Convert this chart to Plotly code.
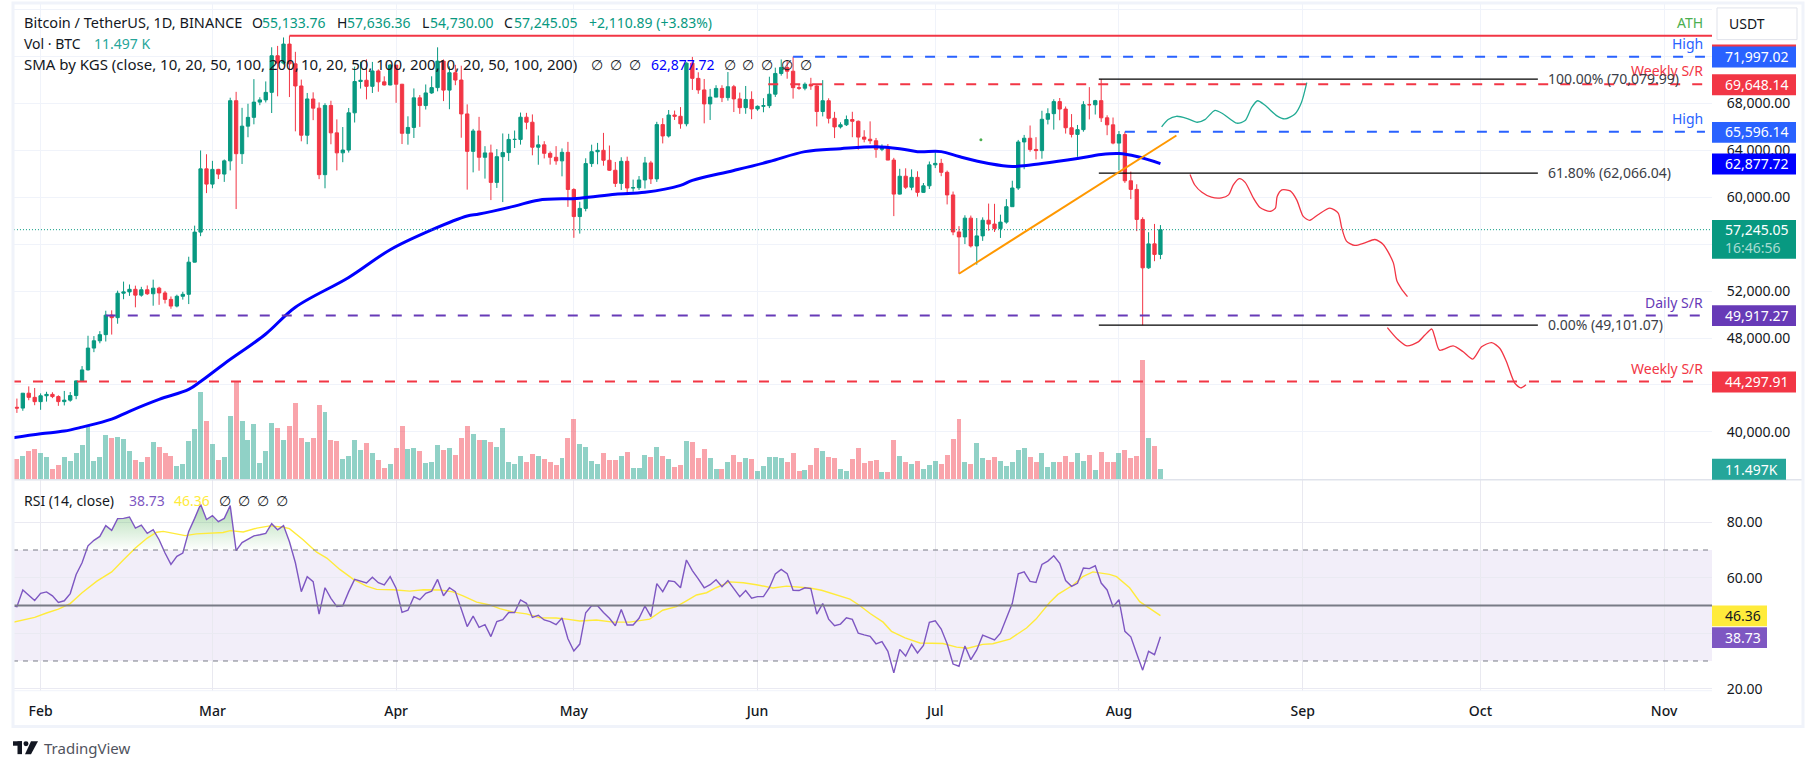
import numpy as np
import pandas as pd
import plotly.graph_objects as go

W, H = 1815, 777
FONT = "Noto Sans"
GREEN, RED, BLUE, PURPLE = "#089981", "#F23645", "#2962FF", "#673AB7"
RSI_COL, RSI_MA_COL = "#7E57C2", "#FFEB3B"
GRID = "#F0F3FA"

# daily candles, Jan 27 to Aug 8
opens = [41800, 42100, 42030, 43300, 42946,
    42580, 43082, 43200, 43011, 42582, 42708, 43098, 44349, 45288, 47147, 47771, 48293, 49958, 49742, 51826, 51939, 52160, 51663, 52122, 51780, 52258, 51849, 51300, 50731, 51565, 51733, 54476, 57037, 62432,
    61130, 62387, 61987, 63113, 68245, 63724, 66074, 66823, 68124, 68313, 68955, 72078, 71452, 73072, 71388, 69499, 65300, 68390, 67609, 61937, 67840, 65501, 63796, 64037, 67210, 69880, 69988, 69469, 70780, 69850, 69582,
    71280, 69649, 65463, 65963, 68487, 67830, 68907, 69360, 71620, 69146, 70631, 70006, 67116, 63924, 65661, 63419, 63793, 61277, 63470, 63818, 64941, 64941, 66837, 66408, 64276, 64481, 63755, 63419, 63113, 63841,
    60672, 58364, 59060, 62882, 63892, 64012, 63165, 62312, 61193, 63074, 60799, 60825, 61484, 62940, 61577, 66206, 65235, 67024, 66915, 66274, 71447, 70148, 69166, 67969, 68549, 69290, 68507, 69436, 68398, 67652, 68352,
    67540, 67766, 67820, 68799, 70567, 71082, 70757, 69355, 69310, 69648, 69500, 67321, 68243, 66747, 66007, 66191, 66639, 66490, 65140, 64960, 64828, 64096, 64252, 63180, 60277, 61804, 60864, 61706, 60427, 60986,
    62773, 62900, 62135, 60208, 57050, 56628, 58230, 55857, 56714, 58050, 57725, 57339, 57889, 59204, 60797, 64725, 65043, 64087, 63987, 66660, 67139, 68165, 67532, 65936, 65372, 65777, 67907, 67896, 68249, 66784, 66188,
    64628, 65354, 61415, 60680, 58116, 53991, 56035, 55133.76]
highs = [42200, 42842, 43300, 43882, 43745,
    43285, 43422, 43380, 43119, 43494, 43399, 44396, 45614, 48200, 48170, 48592, 50334, 50368, 52043, 52816, 52572, 52473, 52370, 52488, 52985, 52370, 52020, 51548, 51700, 51950, 54938, 57588, 64000, 63676,
    63114, 62433, 63231, 68499, 69000, 67637, 67984, 70083, 68541, 69887, 72800, 72916, 73637, 73777, 72413, 70043, 68904, 68957, 68100, 68029, 68240, 66650, 65999, 67624, 71150, 71561, 71769, 71552, 70916, 70321, 71366,
    71288, 69674, 66914, 69291, 68725, 69629, 70326, 72797, 71758, 71172, 71305, 71227, 67931, 65840, 66867, 64365, 64499, 64117, 65450, 65419, 65700, 67232, 67208, 67075, 65275, 64789, 63923, 64370, 64174, 64734,
    60780, 59625, 63333, 64493, 64646, 65500, 64422, 63021, 63421, 63470, 61515, 61818, 63450, 63118, 66444, 66752, 67451, 67400, 67700, 71515, 71980, 70666, 70096, 69250, 69562, 69562, 70687, 69591, 68935, 69500, 69044,
    67836, 68460, 70288, 71063, 71758, 71625, 71997.02, 69582, 69800, 70195, 69562, 69999, 68449, 67294, 66402, 66981, 67298, 66556, 65727, 66482, 65066, 64520, 64546, 63369, 62435, 62480, 62389, 62225, 61224, 63058,
    63861, 63288, 62285, 60498, 57546, 58475, 58449, 58236, 58296, 59470, 59450, 58526, 59850, 61420, 64900, 65326, 66128, 65133, 67386, 67598, 68366, 68474, 67750, 67102, 66175, 68200, 69399, 68318, 70079, 67000, 66810,
    65659, 65596, 62198, 61117, 58305, 57029, 57736, 57636.36]
lows = [41400, 41620, 41800, 42700, 42276,
    41884, 42584, 42880, 42222, 42258, 42574, 42788, 44331, 45242, 46800, 47557, 47710, 48300, 49225, 51314, 51600, 50625, 51530, 51680, 50760, 50838, 50950, 50500, 50620, 51280, 50901, 54450, 56690, 60364,
    60777, 61561, 61320, 62300, 59005, 62848, 65126, 66230, 67861, 68094, 67194, 68620, 71333, 68555, 65630, 64780, 64533, 66586, 61555, 60775, 64529, 62300, 63000, 63821, 66385, 69280, 68359, 68903, 69009, 69540, 69562,
    68062, 64550, 64493, 65064, 66011, 67491, 68824, 69043, 68210, 67518, 69567, 65086, 60660, 62134, 62274, 61600, 59768, 60803, 59600, 63100, 64207, 64500, 65800, 63589, 62783, 63322, 62793, 62781, 61795, 59191,
    56552, 56911, 58811, 62599, 62822, 62700, 62261, 60888, 60630, 60187, 60487, 60630, 60749, 61142, 61319, 64602, 65106, 66600, 65857, 66060, 69162, 68832, 66312, 66600, 68807, 68128, 68250, 67277, 67124, 67128, 66670,
    67386, 67257, 67612, 68567, 70383, 70119, 68420, 69168, 69130, 69172, 66051, 66905, 66304, 65056, 65871, 66086, 65130, 64066, 64693, 64559, 63379, 63941, 63178, 58402, 60239, 60712, 60606, 60063, 60383, 60712,
    62497, 61806, 59400, 56771, 53485, 56018, 55724, 54260, 56290, 57157, 57052, 56542, 57756, 59204, 60633, 62400, 63900, 63238, 63300, 66222, 65777, 66573, 65441, 65111, 63456, 65600, 66650, 67066, 66428, 65302, 64526,
    62302, 61236, 59850, 57122, 49101.07, 53905, 54558, 54730]
closes = [42100, 42030, 43300, 42946, 42580,
    43082, 43200, 43011, 42582, 42708, 43098, 44349, 45288, 47147, 47771, 48293, 49958, 49742, 51826, 51939, 52160, 51663, 52122, 51780, 52258, 51849, 51300, 50731, 51565, 51733, 54477, 57037, 62432, 61130,
    62387, 61987, 63113, 68245, 63724, 66074, 66823, 68124, 68313, 68955, 72078, 71452, 73072, 71388, 69499, 65300, 68393, 67609, 61937, 67840, 65501, 63796, 64037, 67211, 69880, 69988, 69469, 70780, 69850, 69582, 71280,
    69649, 65463, 65963, 68487, 67830, 68907, 69360, 71620, 69146, 70631, 70006, 67116, 63924, 65661, 63419, 63793, 61277, 63470, 63818, 64941, 64945, 66837, 66408, 64276, 64481, 63755, 63419, 63113, 63841, 60672,
    58364, 59060, 62882, 63892, 64012, 63165, 62312, 61193, 63074, 60799, 60825, 61483, 62940, 61577, 66206, 65235, 67024, 66915, 66274, 71446, 70148, 69166, 67969, 68549, 69290, 68507, 69436, 68398, 67652, 68352, 67540,
    67766, 67819, 68798, 70567, 71082, 70757, 69355, 69310, 69648, 69500, 67321, 68243, 66747, 66007, 66191, 66639, 66490, 65140, 64960, 64828, 64096, 64252, 63180, 60277, 61804, 60864, 61706, 60427, 60986, 62772,
    62899, 62135, 60208, 57050, 56628, 58230, 55857, 56714, 58050, 57725, 57339, 57889, 59204, 60797, 64725, 65043, 64087, 63987, 66660, 67139, 68165, 67532, 65936, 65372, 65777, 67907, 67896, 68249, 66784, 66188, 64628,
    65354, 61415, 60680, 58116, 53991, 56034, 55134, 57245.05]

# volume in thousand BTC
volumes = [15.2, 23.7, 27.1, 32.6, 34.9,
    30.4, 26, 11.5, 16, 26, 21.5, 30.4, 39.3, 60.5, 21.5, 26, 50.5, 47.1, 48.2, 46, 32.6, 22.6, 19.3, 26, 42.7, 37.1, 30.4, 27.1, 14.8, 17.1, 43.8, 57.1, 98, 66,
    40.4, 22.6, 26, 71.6, 110.2, 66, 44.9, 62.7, 18.2, 32.6, 63.8, 58.2, 44.9, 60.5, 85.7, 47.1, 42.7, 47.1, 83.5, 75.7, 44.9, 43.8, 23.7, 27.1, 44.9, 33.8, 41.6, 30.4, 22.6, 12.6, 17.1,
    36, 60.5, 34.9, 36, 32.6, 18.2, 19.3, 39.3, 33.8, 36, 28.2, 47.1, 60.5, 51.6, 44.9, 44.9, 42.7, 37.1, 58.2, 20.4, 17.1, 27.1, 20.4, 29.3, 27.1, 23.7, 19.3, 16, 24.9, 47.1,
    68.3, 40.4, 37.1, 21.5, 17.1, 30.4, 22.6, 22.6, 27.1, 31.5, 12.6, 12.6, 28.2, 26, 37.1, 27.1, 23.7, 13.7, 16, 43.8, 42.7, 24.9, 34.9, 24.9, 11.5, 11.5, 20.4, 28.2, 20.4, 24.9, 23.7,
    9.3, 14.8, 26, 26, 24.9, 19.3, 30.4, 9.3, 10.4, 16, 36, 32.6, 26, 24.9, 11.5, 9.3, 23.7, 36, 18.2, 21.5, 22.6, 8.2, 8.2, 44.9, 27.1, 20.4, 17.1, 21.5, 11.5, 16,
    21.5, 17.1, 28.2, 46, 68.3, 19.3, 17.1, 41.6, 24.9, 22.6, 26, 21.5, 14.8, 19.3, 33.8, 36, 26, 20.4, 30.4, 13.7, 19.3, 19.3, 27.1, 20.4, 30.4, 21.5, 28.2, 10.4, 31.5, 20.4, 20.4,
    30.4, 33.8, 24.9, 27.1, 134.7, 47.1, 38.2, 11.497]

rsi = [50, 49.6, 55.6, 53.7, 51.8,
    54.4, 54.9, 53.5, 51.1, 51.7, 54.3, 61.2, 65.4, 71.5, 73.5, 74.9, 78.8, 77.1, 81.3, 81.4, 81.9, 77.9, 79, 76, 77.3, 73.7, 68.9, 64.8, 67.7, 68.9, 76.7, 81.4, 86.5, 81,
    82.4, 80.2, 81.4, 86, 69.8, 72.7, 73.9, 75.1, 75.5, 76, 79.5, 77.3, 78.8, 73, 65.4, 55, 60.4, 58.6, 46.9, 56.4, 52.6, 49.6, 49.9, 55, 59.4, 58.8, 58.1, 60.2, 58.2, 57.4, 60.4,
    56.2, 47.5, 48.3, 53.2, 52.1, 54.4, 55.2, 59.4, 53.5, 56.4, 55, 48.7, 42.4, 46.2, 42.1, 43.1, 38.8, 44.2, 44.9, 47.5, 47.5, 52, 50.8, 45.7, 46.5, 44.8, 44.2, 43.1, 45.5, 38,
    33.6, 36.1, 47.4, 49.9, 49.9, 47.5, 45.4, 42.7, 48.6, 43, 43, 45.4, 49.8, 46, 57.9, 55, 58.9, 58.6, 56.4, 66.4, 62.6, 59.6, 56.4, 57.5, 59.3, 56.8, 59, 56.1, 53.2, 55.4, 52.6,
    53.2, 53.2, 56.4, 61.4, 63, 61.5, 55.5, 55.4, 56.4, 56.1, 46.9, 50.7, 45.1, 42.7, 43.3, 45.6, 45, 40, 39.4, 38.9, 36.2, 37, 33.5, 25.7, 34.2, 31.8, 36.1, 32.9, 35.6, 43.9,
    44.5, 41.5, 36.2, 28.9, 28.1, 35.4, 30.5, 34, 39.3, 38.5, 37.6, 40, 45.1, 50.8, 61.4, 62.1, 58.7, 58.3, 64.8, 66, 67.9, 65.2, 59, 56.9, 58, 63.5, 63.3, 64.3, 58.1, 55.6, 49.6,
    52.1, 40.7, 38.7, 32.6, 26.7, 33.5, 32.3, 38.73]

# the slower lines are read at a few places only, days counted from Jan 28
rsi_ma_day = [-1, 1, 3, 5, 7, 9, 11, 13.5, 16, 18, 20, 22, 23.6, 24.7, 26.4, 28.4, 30.3, 32.6, 34.8, 36, 38.2, 40.5, 42.7, 45, 46, 48.3, 50.6, 52.3, 54.5, 56.8, 59, 60.7, 63.5, 66.3,
    68.6, 71.4, 73.6, 75.3, 77.6, 79.8, 81.5, 83.8, 86, 88.3, 91, 92.8, 95, 97.8, 100.6, 103.4, 106.8, 109, 111.3, 113, 114.7, 116.4, 118, 120.3, 122.6, 124.8, 127.6, 129.9, 133.8,
    135.8, 137.2, 140.6, 142.3, 144, 146.2, 147.6, 149.9, 152.4, 156.3, 158.6, 160.5, 163, 164.7, 167.6, 170.4, 172, 174.3, 175.7, 178.2, 179.9, 181.6, 184.4, 185.6, 187.8, 189.5, 193]
rsi_ma = [43.8, 44.8, 45.7, 47.3, 48.7, 50.7, 54.6, 58.8, 62.1, 66.5, 70.7, 74.3, 76.4, 76.7, 76, 75.2, 75.8, 76.1, 76.3, 77, 76.5, 77.9, 78.7, 78.2, 77.7, 73.7, 69.2, 67.1, 63, 59.4, 57, 55.8, 55.7, 55.2,
    55.7, 55.6, 54.9, 53.5, 51.2, 50.2, 48.9, 47.6, 47, 45.6, 45.5, 45.1, 44.4, 44.8, 44, 44, 45.1, 48.3, 49.6, 51.7, 53.8, 54.6, 56.4, 58.5, 58.2, 57.5, 56.3, 57, 56.3,
    55.5, 54.5, 52.3, 49.9, 47.1, 44, 40.7, 38.3, 36.5, 36.3, 35, 34.6, 36, 36.2, 37.9, 41.9, 45.1, 51.1, 54, 57.3, 60.4, 62.1, 61.2, 60.4, 56.4, 51.4, 46.36]

sma_day = [-1, 4, 8, 11, 16, 19, 24, 29, 31, 35, 42, 47, 56, 63, 70, 76, 78, 84, 88, 95, 101, 106, 112, 114, 121, 127, 133, 139, 145, 149, 152, 156, 159, 164, 168, 173, 179, 183, 186, 189, 193]
sma_200 = [39478, 39841, 40070, 40408, 41084, 41760, 42774, 43619, 44295, 45816, 48352, 50633, 53169, 55535, 57225, 58408, 58577, 59253, 59760, 59929, 60267, 60436, 61028, 61451, 62296, 63056, 63901, 64155, 64324, 64155, 63901, 63901, 63479, 62887, 62634, 62887, 63310, 63648, 63732, 63479, 62877.72]

# hand drawn projections
up_day = [193.2, 194.3, 195.7, 197.4, 199.2, 200.5, 202.2, 203.6, 205.9, 207.3, 208.4, 209.4, 210.6, 212.6, 214, 215.7, 216.8, 217.7]
up_price = [66014, 66634, 66916, 66746, 66408, 66634, 67423, 67113, 66324, 66549, 67676, 68239, 67873, 66972, 66690, 67113, 68099, 69789]
down1_day = [198, 198.8, 200, 201.6, 203.3, 204.5, 205.3, 206.3, 207.3, 208.7, 209.8, 211.5, 212.4, 212.7, 213.5, 214.9, 216, 217.1, 218.2, 219.6, 221.6, 223, 223.6, 224.4, 225.8, 227.5, 229.2, 230.6, 232.3, 232.9, 233.7, 234.7]
down1_price = [61957, 61056, 60436, 60014, 59958, 60211, 61056, 61591, 61282, 59929, 59141, 58803, 59084, 60070, 60634, 60549, 59788, 58380, 58042, 58521, 59084, 58662, 57394, 56267, 55901, 56126, 56408, 55985, 54436, 52887, 52183, 51535]
down2_day = [231.3, 232.9, 234.6, 236.5, 237.6, 238.8, 239.3, 240.1, 242.4, 244.1, 245.7, 247.2, 248.9, 250.3, 251.4, 252.8, 253.8, 254.7]
down2_price = [48887, 47957, 47337, 47676, 48239, 48774, 48098, 46971, 47337, 46830, 46210, 47253, 47620, 47112, 45985, 44153, 43759, 44012]

month_ticks = ["2024-02-01", "2024-03-01", "2024-04-01", "2024-05-01", "2024-06-01", "2024-07-01", "2024-08-01", "2024-09-01", "2024-10-01", "2024-11-01"]
month_labels = ["Feb", "Mar", "Apr", "May", "Jun", "Jul", "Aug", "Sep", "Oct", "Nov"]
price_ticks = [40000, 44000, 48000, 52000, 56000, 60000, 64000, 68000, 72000, 76000]
price_labels = ["40,000.00", "", "48,000.00", "52,000.00", "", "60,000.00", "64,000.00", "68,000.00", "", ""]
rsi_ticks = [20, 40, 60, 80]
rsi_labels = ["20.00", "", "60.00", "80.00"]

assert len(opens) == len(highs) == len(lows) == len(closes) == len(volumes) == len(rsi) == 195
assert len(rsi_ma_day) == len(rsi_ma) and len(sma_day) == len(sma_200)

dates = pd.date_range("2024-01-27", periods=len(closes))
day0 = pd.Timestamp("2024-01-28")


def day(i):
    return day0 + pd.to_timedelta(i, unit="D")


def days(lst):
    return [day(i) for i in lst]


def px(x):
    return x / W


def py(y):
    return 1 - y / H


LEFT, RIGHT, TOP, SPLIT, BOTTOM = 13, 1712, 3, 484, 697
x_range = [day(-0.658), day(286.09)]

bar_colors = ["rgba(8,153,129,0.45)" if c >= o else "rgba(242,54,69,0.45)" for o, c in zip(opens, closes)]

fig = go.Figure()
fig.add_trace(go.Bar(x=dates, y=volumes, marker=dict(color=bar_colors, line=dict(width=0)), width=86400000 * 0.84, xaxis="x", yaxis="y"))
fig.add_trace(go.Candlestick(x=dates, open=opens, high=highs, low=lows, close=closes, xaxis="x", yaxis="y2", whiskerwidth=0,
                             increasing=dict(line=dict(color=GREEN, width=1), fillcolor=GREEN),
                             decreasing=dict(line=dict(color=RED, width=1), fillcolor=RED)))
fig.add_trace(go.Scatter(x=days(sma_day), y=sma_200, mode="lines", line=dict(color="#0000FF", width=3, shape="spline", smoothing=1), xaxis="x", yaxis="y2"))
fig.add_trace(go.Scatter(x=days(up_day), y=up_price, mode="lines", line=dict(color="#22AB94", width=1.3, shape="spline", smoothing=0.7), xaxis="x", yaxis="y2"))
fig.add_trace(go.Scatter(x=days(down1_day), y=down1_price, mode="lines", line=dict(color=RED, width=1.3, shape="spline", smoothing=0.7), xaxis="x", yaxis="y2"))
fig.add_trace(go.Scatter(x=days(down2_day), y=down2_price, mode="lines", line=dict(color=RED, width=1.3, shape="spline", smoothing=0.7), xaxis="x", yaxis="y2"))
fig.add_trace(go.Scatter(x=[day(162.7)], y=[64915], mode="markers", marker=dict(color="#4CAF50", size=3), xaxis="x", yaxis="y2"))

# green gradient above the 70 line
rsi_top = np.maximum(rsi, 70)
fig.add_trace(go.Scatter(x=dates, y=[70] * len(dates), mode="lines", line=dict(width=0), xaxis="x2", yaxis="y3"))
fig.add_trace(go.Scatter(x=dates, y=rsi_top, mode="lines", line=dict(width=0), fill="tonexty", xaxis="x2", yaxis="y3",
                         fillgradient=dict(type="vertical", start=70, stop=88,
                                           colorscale=[[0, "rgba(76,175,80,0)"], [1, "rgba(76,175,80,0.5)"]])))
fig.add_trace(go.Scatter(x=days(rsi_ma_day), y=rsi_ma, mode="lines", line=dict(color=RSI_MA_COL, width=1.4), xaxis="x2", yaxis="y3"))
fig.add_trace(go.Scatter(x=dates, y=rsi, mode="lines", line=dict(color=RSI_COL, width=1.4), xaxis="x2", yaxis="y3"))


def hline(price, d0, d1, color, dash="solid", width=2):
    return dict(type="line", xref="x", yref="y2", x0=day(d0), x1=day(d1), y0=price, y1=price, line=dict(color=color, width=width, dash=dash))


def box(x0, y0, x1, y1, color):
    return dict(type="rect", xref="paper", yref="paper", x0=px(x0), x1=px(x1), y0=py(y0), y1=py(y1), fillcolor=color, line=dict(width=0))


DASH = "10px,12px"
shapes = [
    hline(57245.05, -1, 286.1, GREEN, "1px,2px", 1),
    hline(73777, 46, 286.1, RED),
    hline(71997.02, 131, 284.9, BLUE, DASH),
    hline(69648.14, 126.8, 284.9, RED, DASH),
    hline(65596.14, 187, 284.9, BLUE, DASH),
    hline(49917.27, 15, 284.9, PURPLE, DASH),
    hline(44297.91, -1, 284.9, RED, DASH),
    hline(70079.99, 182.6, 256.7, "#000000", width=1.3),
    hline(62066.04, 182.6, 256.7, "#000000", width=1.3),
    hline(49101.07, 182.6, 256.7, "#000000", width=1.3),
    dict(type="line", xref="x", yref="y2", x0=day(159), x1=day(195.7), y0=53485, y1=65279, line=dict(color="#FF9800", width=2)),
    # rsi band and levels
    dict(type="rect", xref="paper", yref="y3", x0=px(LEFT), x1=px(RIGHT), y0=30, y1=70, fillcolor="rgba(126,87,194,0.1)", line=dict(width=0), layer="below"),
    dict(type="line", xref="paper", yref="y3", x0=px(LEFT), x1=px(RIGHT), y0=70, y1=70, line=dict(color="#787B86", width=1, dash="5px,5px")),
    dict(type="line", xref="paper", yref="y3", x0=px(LEFT), x1=px(RIGHT), y0=30, y1=30, line=dict(color="#787B86", width=1, dash="5px,5px")),
    dict(type="line", xref="paper", yref="y3", x0=px(LEFT), x1=px(RIGHT), y0=50, y1=50, line=dict(color="#787B86", width=2)),
    # frame
    dict(type="line", xref="paper", yref="paper", x0=px(LEFT), x1=px(1803), y0=py(SPLIT), y1=py(SPLIT), line=dict(color="#E0E3EB", width=1.5)),
    dict(type="line", xref="paper", yref="paper", x0=px(LEFT), x1=px(RIGHT), y0=py(BOTTOM), y1=py(BOTTOM), line=dict(color=GRID, width=1)),
    dict(type="rect", xref="paper", yref="paper", x0=px(LEFT), x1=px(1803), y0=py(733), y1=py(3), line=dict(color=GRID, width=3)),
    # USDT button
    dict(type="rect", xref="paper", yref="paper", x0=px(1717), x1=px(1797), y0=py(40), y1=py(8), line=dict(color="#E0E3EB", width=1), fillcolor="#FFFFFF"),
    # TradingView logo
    box(13, 748, 22, 752.5, "#131722"), box(17.5, 748, 22, 761, "#131722"),
    dict(type="circle", xref="paper", yref="paper", x0=px(23.5), x1=px(28.5), y0=py(753), y1=py(748), fillcolor="#131722", line=dict(width=0)),
    dict(type="path", xref="paper", yref="paper", path=f"M {px(31)} {py(748)} L {px(38)} {py(748)} L {px(31)} {py(761)} L {px(25)} {py(761)} Z", fillcolor="#131722", line=dict(width=0)),
    # price scale labels
    box(RIGHT, 45, 1796, 50, RED),
    box(RIGHT, 47, 1796, 68, BLUE),
    box(RIGHT, 75, 1796, 96, RED),
    box(RIGHT, 123, 1796, 144, BLUE),
    box(RIGHT, 155, 1796, 176, "#0000FF"),
    box(RIGHT, 222, 1796, 261, GREEN),
    box(RIGHT, 308, 1796, 329, PURPLE),
    box(RIGHT, 375, 1796, 396, RED),
    box(RIGHT, 463, 1786, 484, "#26A69A"),
    box(RIGHT, 611, 1767, 632, RSI_MA_COL),
    box(RIGHT, 633, 1767, 654, RSI_COL),
]


def label(x, y, text, color="#131722", size=14, anchor="left", **kw):
    return dict(xref="paper", yref="paper", x=px(x), y=py(y), text=text, showarrow=False, xanchor=anchor, yanchor="middle",
                font=dict(family=FONT, size=size, color=color, **kw), borderpad=0)


DARK = "#131722"
annotations = [
    label(23, 22.7, "Bitcoin / TetherUS, 1D, BINANCE", size=14.5),
    label(250.5, 22.7, "O"), label(261, 22.7, "55,133.76", GREEN),
    label(336, 22.7, "H"), label(346, 22.7, "57,636.36", GREEN),
    label(421, 22.7, "L"), label(429, 22.7, "54,730.00", GREEN),
    label(503, 22.7, "C"), label(513, 22.7, "57,245.05", GREEN),
    label(588, 22.7, "+2,110.89 (+3.83%)", GREEN),
    label(23, 44, "Vol · BTC"), label(93, 44, "11.497 K", "#26A69A"),
    label(23, 65, "SMA by KGS (close, 10, 20, 50, 100, 200,", size=15),
    label(300, 65, "10, 20, 50, 100, 200,", size=15),
    label(437, 65, "10, 20, 50, 100, 200)", size=15),
    label(650, 65, "62,877.72", "#0000FF"),
    label(23, 505, "RSI (14, close)"),
    label(127.7, 505, "38.73", RSI_COL), label(173, 505, "46.36", RSI_MA_COL),
    label(1704, 22.7, "ATH", "#4CAF50", anchor="right"),
    label(1704, 44, "High", BLUE, anchor="right"),
    label(1704, 71, "Weekly S/R", RED, anchor="right"),
    label(1704, 120, "High", BLUE, anchor="right"),
    label(1704, 305, "Daily S/R", PURPLE, anchor="right"),
    label(1704, 371.7, "Weekly S/R", RED, anchor="right"),
    label(1547, 79, "100.00% (70,079.99)", "#3b3e47"),
    label(1547, 173.7, "61.80% (62,066.04)", "#3b3e47"),
    label(1547, 327, "0.00% (49,101.07)", "#3b3e47"),
    label(1728, 24, "USDT"),
    label(1724, 57, "71,997.02", "#FFFFFF"),
    label(1724, 85, "69,648.14", "#FFFFFF"),
    label(1724, 133, "65,596.14", "#FFFFFF"),
    label(1724, 165, "62,877.72", "#FFFFFF"),
    label(1724, 231.5, "57,245.05", "#FFFFFF"),
    label(1724, 250, "16:46:56", "#A8DCD2"),
    label(1724, 318, "49,917.27", "#FFFFFF"),
    label(1724, 385, "44,297.91", "#FFFFFF"),
    label(1724, 473.5, "11.497K", "#FFFFFF"),
    label(1724, 621, "46.36", DARK),
    label(1724, 643.5, "38.73", "#FFFFFF"),
    label(43, 755, "TradingView", "#50535E", size=15),
]
for xc in [597, 616, 635, 730, 748, 767, 787, 806]:
    annotations.append(label(xc, 65, "∅", anchor="center"))
for xc in [225, 244, 263, 281.7]:
    annotations.append(label(xc, 505, "∅", anchor="center"))

fig.update_layout(
    width=W, height=H,
    margin=dict(l=0, r=0, t=0, b=0),
    paper_bgcolor="#FFFFFF", plot_bgcolor="#FFFFFF",
    showlegend=False, hovermode=False, bargap=0, boxgap=0.2,
    font=dict(family=FONT, color=DARK),
    xaxis=dict(domain=[px(LEFT), px(RIGHT)], range=x_range, type="date", anchor="y", rangeslider=dict(visible=False),
               tickmode="array", tickvals=month_ticks, showticklabels=False, showgrid=True, gridcolor=GRID, zeroline=False),
    xaxis2=dict(domain=[px(LEFT), px(RIGHT)], range=x_range, type="date", anchor="y3", matches="x",
                tickmode="array", tickvals=month_ticks, ticktext=month_labels, showgrid=True, gridcolor="#E9E9F0", zeroline=False,
                tickfont=dict(family=FONT, size=14, color=DARK, weight=500), ticks="", ticklabelstandoff=10),
    yaxis=dict(domain=[py(SPLIT), py(TOP)], range=[0, 535.4], visible=False, anchor="x", fixedrange=True),
    yaxis2=dict(domain=[py(SPLIT), py(TOP)], range=[35929, 76578], overlaying="y", side="right", anchor="x",
                tickmode="array", tickvals=price_ticks, ticktext=price_labels, showgrid=True, gridcolor=GRID, zeroline=False,
                tickfont=dict(family=FONT, size=14, color=DARK), ticks="outside", ticklen=11, tickcolor="rgba(0,0,0,0)"),
    yaxis3=dict(domain=[py(BOTTOM), py(SPLIT)], range=[19.29, 95.36], side="right", anchor="x2",
                tickmode="array", tickvals=rsi_ticks, ticktext=rsi_labels, showgrid=True, gridcolor="#EAEAF2", zeroline=False,
                tickfont=dict(family=FONT, size=14, color=DARK), ticks="outside", ticklen=11, tickcolor="rgba(0,0,0,0)"),
    shapes=shapes,
    annotations=annotations,
)

# no page margin or scrolling, the window is the same size as the figure
page_css = ("var s=document.createElement('style');"
            "s.textContent='html,body{margin:0;padding:0;height:777px;overflow:hidden}';"
            "document.head.appendChild(s);")
fig.write_html("out.html", config={"displayModeBar": False}, post_script=page_css)
